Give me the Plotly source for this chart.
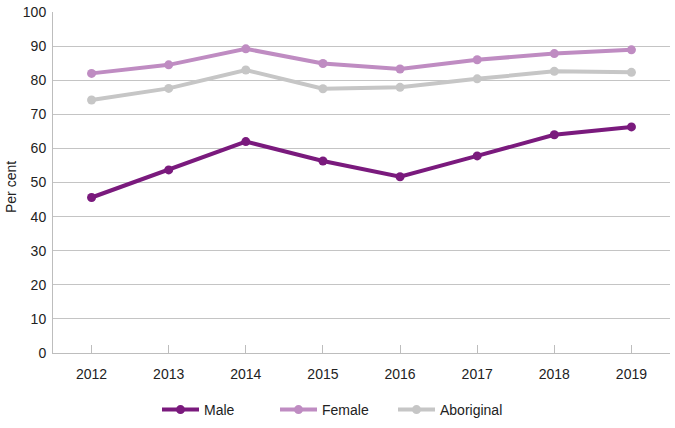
import plotly.graph_objects as go

years = ["2012", "2013", "2014", "2015", "2016", "2017", "2018", "2019"]
male = [45.6, 53.7, 62.0, 56.3, 51.7, 57.8, 64.0, 66.3]
female = [82.0, 84.5, 89.2, 84.9, 83.3, 86.0, 87.8, 88.9]
aboriginal = [74.2, 77.6, 83.0, 77.5, 77.9, 80.4, 82.6, 82.3]
y_ticks = list(range(0, 101, 10))

series = [("Male", male, "#7a1a7d"), ("Female", female, "#bf8cc2"), ("Aboriginal", aboriginal, "#c6c6c6")]

W, H = 675, 428
ML, MR, MT, MB = 53, 5, 12, 75
pw = W - ML - MR
ph = H - MT - MB

fig = go.Figure()
for name, vals, col in series:
    fig.add_trace(go.Scatter(x=years, y=vals, name=name, mode="lines+markers",
                             line=dict(color=col, width=4), marker=dict(color=col, size=9)))

fig.update_layout(
    width=W, height=H,
    margin=dict(l=ML, r=MR, t=MT, b=MB, autoexpand=False),
    paper_bgcolor="white", plot_bgcolor="white",
    font=dict(family="Liberation Sans, Arial, sans-serif", size=14, color="#222222"),
    showlegend=True,
    legend=dict(orientation="h", xref="container", yref="container",
                x=334 / W, xanchor="center", y=18 / H, yanchor="middle",
                font=dict(size=14), itemwidth=37, entrywidth=66, traceorder="normal"),
    xaxis=dict(type="category", range=[-0.5, 7.5], showgrid=False, automargin=False,
               showline=True, linecolor="#bdbdbd", linewidth=1,
               ticks="inside", ticklen=8, tickcolor="#bdbdbd", ticklabelstandoff=8),
    yaxis=dict(range=[0, 100], tickvals=y_ticks, showgrid=True, gridcolor="#c4c4c4",
               gridwidth=1, zeroline=False, showline=True, linecolor="#bdbdbd",
               ticks="", automargin=False, ticklabelstandoff=3),
    annotations=[dict(text="Per cent", xref="paper", yref="paper",
                      x=-ML / pw, y=(H - MB - 187) / ph, xshift=1,
                      xanchor="left", yanchor="middle",
                      showarrow=False, textangle=-90, font=dict(size=14))],
)
fig.write_html("out.html", config={"displayModeBar": False},
               post_script="document.body.style.margin='0';")
